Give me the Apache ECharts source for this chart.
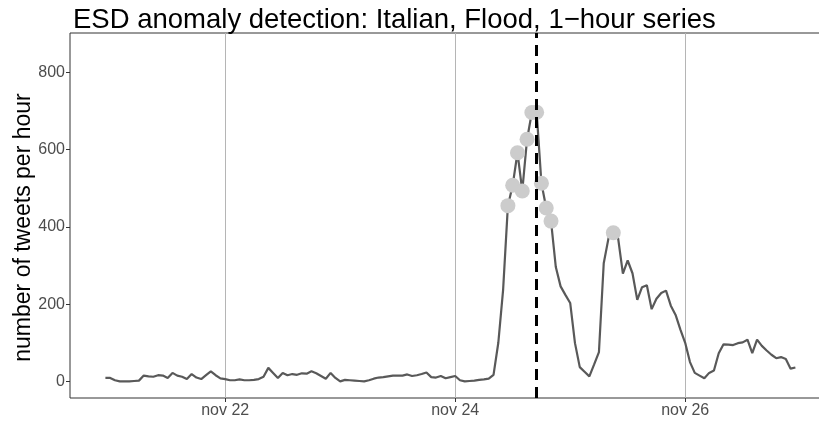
<!DOCTYPE html>
<html>
<head>
<meta charset="utf-8">
<script src="https://cdn.jsdelivr.net/npm/echarts@6/dist/echarts.min.js"></script>
<style>
  html, body { margin: 0; padding: 0; background: #fff; }
  #chart { width: 819px; height: 423px; }
</style>
</head>
<body>
<div id="chart"></div>
<script>
const HOUR = 3600 * 1000
// first hourly observation: nov 20, 23:00
const startTime = Date.UTC(2016, 10, 20, 23)

// tweets per hour, one value per hour
const tweetCounts = [
  9, 9, 3, 0, 0, 0, 1, 2, 15, 13, 12, 16, 15, 9, 22, 15, 12, 6, 19, 10,
  6, 16, 26, 16, 8, 6, 3, 3, 5, 3, 3, 4, 6, 12, 35, 22, 9, 22, 16, 19,
  17, 21, 20, 26, 21, 14, 7, 22, 9, 0, 4, 3, 2, 1, 0, 3, 7, 10, 11, 13,
  15, 15, 15, 18, 14, 16, 19, 23, 11, 10, 14, 8, 11, 14, 3, 0, 1, 2, 4, 5,
  7, 17, 100, 237, 455, 508, 592, 493, 627, 696, 697, 513, 449, 415, 296, 246, 224, 203, 99, 37,
  25, 13, 44, 76, 306, 371, 385, 371, 279, 313, 280, 211, 244, 249, 187, 214, 229, 235, 196, 172,
  134, 100, 50, 22, 15, 8, 22, 28, 73, 96, 95, 94, 99, 101, 108, 73, 108, 92, 80, 69,
  60, 63, 58, 33, 36
]

// hours (index into tweetCounts) flagged by ESD
const anomalyHours = [84, 85, 86, 87, 88, 89, 90, 91, 92, 93, 106]

// reference event time (dashed line)
const eventTime = Date.UTC(2016, 10, 24, 17)

const xTickDates = [Date.UTC(2016, 10, 22), Date.UTC(2016, 10, 24), Date.UTC(2016, 10, 26)]
const xTickLabels = ['nov 22', 'nov 24', 'nov 26']
const yTicks = [0, 200, 400, 600, 800]

const lineData = tweetCounts.map((v, i) => [startTime + i * HOUR, v])
const anomalyData = anomalyHours.map(h => [startTime + h * HOUR, tweetCounts[h]])

const font = "'Liberation Sans', Arial, Helvetica, sans-serif"
const chart = echarts.init(document.getElementById('chart'))

chart.setOption({
  animation: false,
  useUTC: true,
  backgroundColor: '#ffffff',
  title: {
    text: 'ESD anomaly detection: Italian, Flood, 1\u2212hour series',
    left: 68,
    top: 1,
    textStyle: { fontFamily: font, fontSize: 27.5, fontWeight: 'normal', color: '#000' },
  },
  grid: {
    left: 70,
    right: -5,
    top: 33,
    bottom: 25,
    outerBoundsMode: 'none',
    containLabel: false,
    show: true,
    borderColor: '#333333',
    borderWidth: 1,
  },
  xAxis: {
    type: 'value',
    min: Date.UTC(2016, 10, 22) - 32.39 * HOUR,
    max: Date.UTC(2016, 10, 26) + 28.97 * HOUR,
    axisLine: { show: false, onZero: false },
    axisTick: {
      show: true,
      length: 4,
      customValues: xTickDates,
      lineStyle: { color: '#333333' },
    },
    axisLabel: {
      customValues: xTickDates,
      margin: 5,
      color: '#4d4d4d',
      fontFamily: font,
      fontSize: 16,
      formatter: v => xTickLabels[xTickDates.indexOf(v)] || '',
    },
    splitLine: { show: true, lineStyle: { color: '#b5b5b5', width: 1 } },
  },
  yAxis: {
    type: 'value',
    min: -43,
    max: 902,
    name: 'number of tweets per hour',
    nameLocation: 'middle',
    nameGap: 35,
    nameMoveOverlap: false,
    nameTextStyle: { fontFamily: font, fontSize: 23, color: '#000', padding: [0, 24, 0, 0] },
    axisLine: { show: false, onZero: false },
    axisTick: {
      show: true,
      length: 4,
      customValues: yTicks,
      lineStyle: { color: '#333333' },
    },
    axisLabel: {
      customValues: yTicks,
      margin: 5,
      color: '#4d4d4d',
      fontFamily: font,
      fontSize: 16,
    },
    splitLine: { show: false },
  },
  series: [
    {
      name: 'tweets',
      type: 'line',
      data: lineData,
      showSymbol: false,
      lineStyle: { color: '#595959', width: 2.2 },
      z: 2,
    },
    {
      name: 'anomalies',
      type: 'scatter',
      data: anomalyData,
      symbolSize: 15,
      itemStyle: { color: '#cccccc', opacity: 1 },
      z: 3,
    },
    {
      name: 'event',
      type: 'line',
      data: [],
      z: 5,
      markLine: {
        silent: true,
        symbol: 'none',
        label: { show: false },
        lineStyle: { color: '#000000', width: 3, type: [11, 7] },
        data: [{ xAxis: eventTime }],
      },
    },
  ],
})
</script>
</body>
</html>
